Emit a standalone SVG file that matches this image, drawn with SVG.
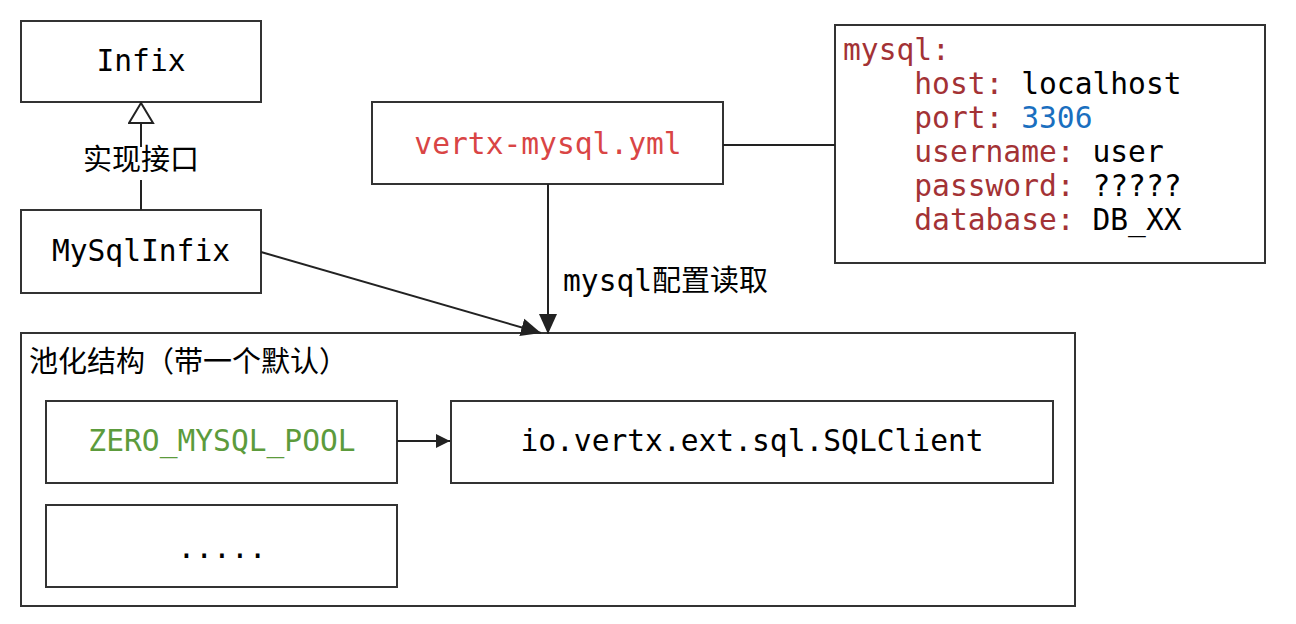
<svg xmlns="http://www.w3.org/2000/svg" width="1296" height="624" viewBox="0 0 1296 624">
<defs>
<style>
.box{fill:#fff;stroke:#333;stroke-width:2}
.mono{font-family:"DejaVu Sans Mono","Liberation Mono",monospace;font-size:29.6px;fill:#000}
.cjk{font-family:"Noto Sans CJK SC","Noto Sans",sans-serif;font-size:29px;fill:#000}
.line{stroke:#222;stroke-width:2;fill:none}
.key{fill:#a33235}
</style>
<marker id="tri" markerWidth="30" markerHeight="30" refX="22" refY="13" orient="auto" markerUnits="userSpaceOnUse">
<path d="M22,13 L2,1 L2,25 Z" fill="#fff" stroke="#222" stroke-width="2"/>
</marker>
<marker id="arr" markerWidth="24" markerHeight="20" refX="20" refY="10" orient="auto" markerUnits="userSpaceOnUse">
<path d="M0,1 L20,10 L0,19 Z" fill="#222"/>
</marker>
<marker id="arrs" markerWidth="18" markerHeight="16" refX="14" refY="7" orient="auto" markerUnits="userSpaceOnUse">
<path d="M0,0 L14,7 L0,14 Z" fill="#222"/>
</marker>
</defs>
<rect width="1296" height="624" fill="#fff"/>
<g id="pool">
<rect class="box" x="21" y="333" width="1054" height="273"/>
<text class="cjk" x="29" y="372">池化结构（带一个默认）</text>
</g>
<g id="infix">
<rect class="box" x="21" y="21" width="240" height="81"/>
<text class="mono" x="141" y="71" text-anchor="middle">Infix</text>
</g>
<g id="mysqlinfix">
<rect class="box" x="21" y="210" width="240" height="83"/>
<text class="mono" x="141" y="261" text-anchor="middle">MySqlInfix</text>
</g>
<g id="vertx">
<rect class="box" x="372" y="102" width="351" height="82"/>
<text class="mono" x="548" y="154" text-anchor="middle" style="fill:#d94545">vertx-mysql.yml</text>
</g>
<g id="config">
<rect class="box" x="835" y="25" width="430" height="238"/>
<text class="mono" xml:space="preserve"><tspan x="843" y="60" class="key">mysql:</tspan><tspan x="843" y="94"><tspan class="key">    host:</tspan> localhost</tspan><tspan x="843" y="128"><tspan class="key">    port:</tspan> <tspan style="fill:#1a6fbf">3306</tspan></tspan><tspan x="843" y="162"><tspan class="key">    username:</tspan> user</tspan><tspan x="843" y="196"><tspan class="key">    password:</tspan> ?????</tspan><tspan x="843" y="230"><tspan class="key">    database:</tspan> DB_XX</tspan></text>
</g>
<g id="zeropool">
<rect class="box" x="46" y="401" width="351" height="82"/>
<text class="mono" x="222" y="451" text-anchor="middle" style="fill:#5c9b3c">ZERO_MYSQL_POOL</text>
</g>
<g id="sqlclient">
<rect class="box" x="451" y="401" width="602" height="82"/>
<text class="mono" x="752" y="451" text-anchor="middle">io.vertx.ext.sql.SQLClient</text>
</g>
<g id="more">
<rect class="box" x="46" y="505" width="351" height="82"/>
<text class="mono" x="222" y="558" text-anchor="middle">.....</text>
</g>
<g id="connectors">
<line class="line" x1="141" y1="210" x2="141" y2="180"/>
<line class="line" x1="141" y1="147" x2="141" y2="103" marker-end="url(#tri)"/>
<text class="cjk" x="141" y="170" text-anchor="middle">实现接口</text>
<line class="line" x1="723" y1="145" x2="835" y2="145"/>
<line class="line" x1="548" y1="184" x2="548" y2="334" marker-end="url(#arr)"/>
<text class="cjk" x="563" y="291"><tspan class="mono">mysql</tspan>配置读取</text>
<line class="line" x1="261" y1="252" x2="541" y2="333" marker-end="url(#arr)"/>
<line class="line" x1="397" y1="441" x2="450" y2="441" marker-end="url(#arrs)"/>
</g>
</svg>
